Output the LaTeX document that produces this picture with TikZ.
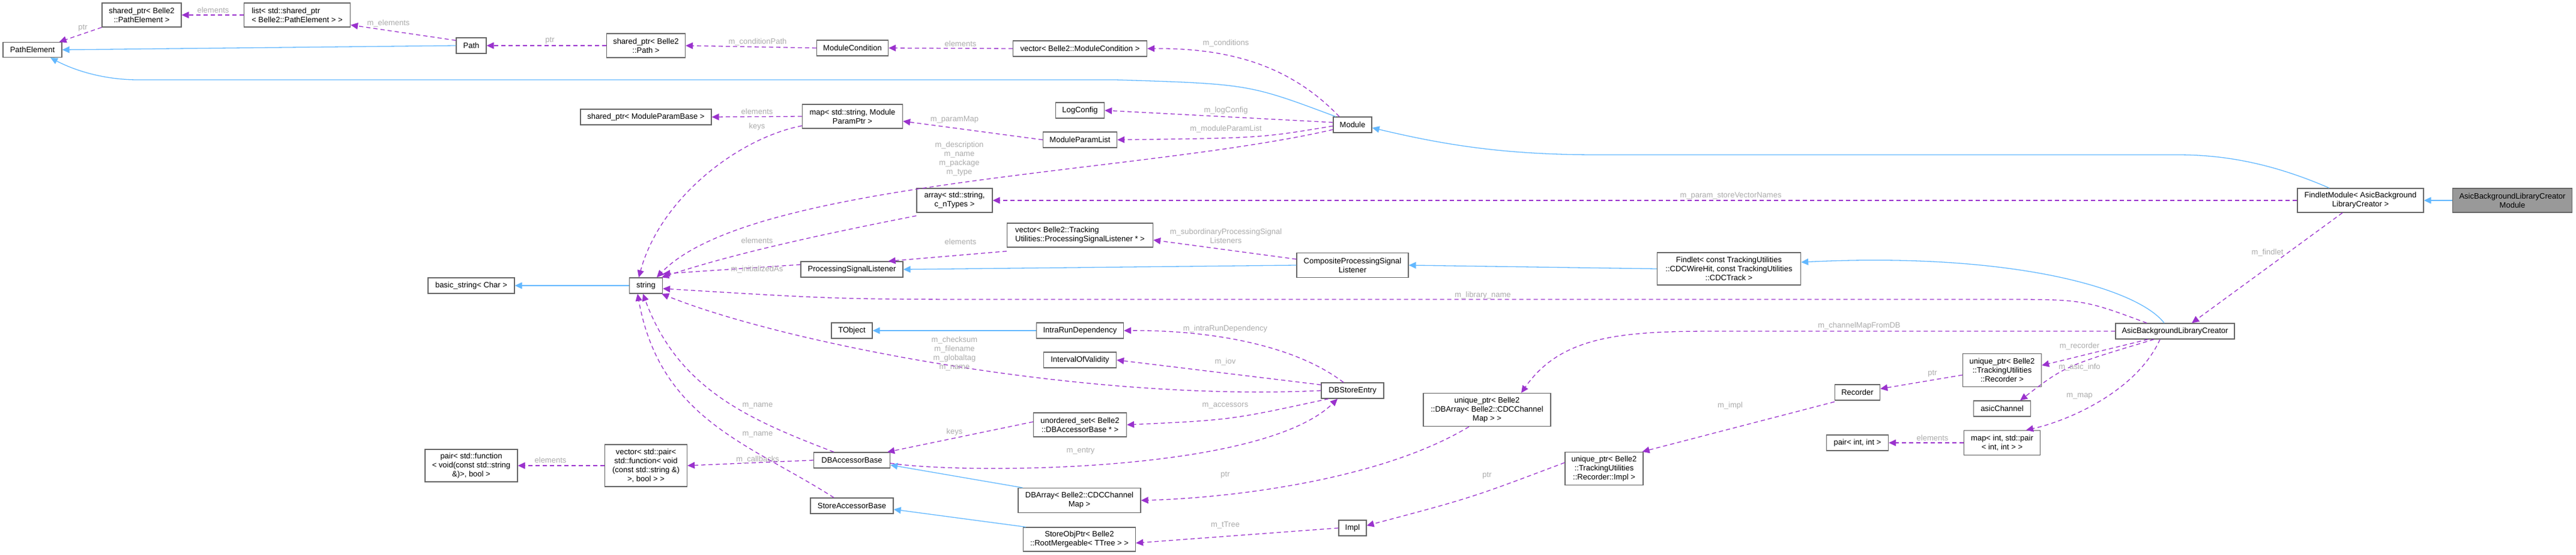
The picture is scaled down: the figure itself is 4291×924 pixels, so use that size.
\documentclass[tikz,border=0pt]{standalone}
\usepackage{fontspec}
\setmainfont{Liberation Sans}
\usetikzlibrary{arrows.meta}
\definecolor{inhc}{HTML}{63B8FF}
\definecolor{depc}{HTML}{9A32CD}
\definecolor{lblc}{HTML}{ABABAB}
\definecolor{boxc}{HTML}{666666}
\begin{document}
\begin{tikzpicture}[x=1pt,y=-1pt,
  every node/.style={font=\fontsize{13}{15}\selectfont},
  box/.style={draw=boxc,line width=1.3pt,fill=white,inner sep=2pt,align=center},
  inh/.style={draw=inhc,line width=1.3pt,-{Triangle[length=12pt,width=11pt,fill=inhc]}},
  dep/.style={draw=depc,line width=1.3pt,dash pattern=on 7pt off 5pt,-{Triangle[length=12pt,width=11pt,fill=depc]}},
  lbl/.style={text=lblc,align=center,inner sep=0pt}]
\useasboundingbox (0,0) rectangle (4291,924);
% nodes
\node[box,minimum width=132,minimum height=40] (shPE) at (236,25) {shared\_ptr< Belle2\\::PathElement >};
\node[box,minimum width=177,minimum height=40,align=left] (list) at (495,25) {list< std::shared\_ptr\\< Belle2::PathElement > >};
\node[box,minimum width=98,minimum height=25] (PE) at (54,83) {PathElement};
\node[box,minimum width=50,minimum height=26] (Path) at (785,76) {Path};
\node[box,minimum width=131,minimum height=40] (shPath) at (1076,76) {shared\_ptr< Belle2\\::Path >};
\node[box,minimum width=119,minimum height=26] (MC) at (1420,80) {ModuleCondition};
\node[box,minimum width=223,minimum height=26] (vMC) at (1799,81) {vector< Belle2::ModuleCondition >};
\node[box,minimum width=81,minimum height=26] (LC) at (1799,184) {LogConfig};
\node[box,minimum width=123,minimum height=26] (MPL) at (1799,233) {ModuleParamList};
\node[box,minimum width=64,minimum height=26] (Mod) at (2253,208) {Module};
\node[box,minimum width=218,minimum height=26] (shMPB) at (1076,195) {shared\_ptr< ModuleParamBase >};
\node[box,minimum width=167,minimum height=40] (map) at (1420,194) {map< std::string, Module\\ParamPtr >};
\node[box,minimum width=126,minimum height=40] (arr) at (1590,334) {array< std::string,\\c\_nTypes >};
\node[box,minimum width=170,minimum height=26] (PSL) at (1419,449) {ProcessingSignalListener};
\node[box,minimum width=243,minimum height=40,align=left] (vPSL) at (1799,392) {vector< Belle2::Tracking\\Utilities::ProcessingSignalListener * >};
\node[box,minimum width=186,minimum height=41] (CPSL) at (2253,442) {CompositeProcessingSignal\\Listener};
\node[box,minimum width=239,minimum height=54] (Fd) at (2880,448) {Findlet< const TrackingUtilities\\::CDCWireHit, const TrackingUtilities\\::CDCTrack >};
\node[box,minimum width=210,minimum height=40] (FM) at (3932,334) {FindletModule< AsicBackground\\LibraryCreator >};
\node[box,minimum width=199,minimum height=40,fill={rgb,255:red,153;green,153;blue,153}] (ABM) at (4185,334) {AsicBackgroundLibraryCreator\\Module};
\node[box,minimum width=198,minimum height=26] (ABC) at (3623,552) {AsicBackgroundLibraryCreator};
\node[box,minimum width=131,minimum height=55] (uRec) at (3335,617) {unique\_ptr< Belle2\\::TrackingUtilities\\::Recorder >};
\node[box,minimum width=95,minimum height=26] (aC) at (3335,681) {asicChannel};
\node[box,minimum width=127,minimum height=41] (mIP) at (3335,738) {map< int, std::pair\\< int, int > >};
\node[box,minimum width=75,minimum height=26] (Rec) at (3094,654) {Recorder};
\node[box,minimum width=103,minimum height=26] (pII) at (3094,738) {pair< int, int >};
\node[box,minimum width=130,minimum height=55] (uImpl) at (2672,781) {unique\_ptr< Belle2\\::TrackingUtilities\\::Recorder::Impl >};
\node[box,minimum width=212,minimum height=55] (uDBA) at (2477,683) {unique\_ptr< Belle2\\::DBArray< Belle2::CDCChannel\\Map > >};
\node[box,minimum width=145,minimum height=26] (IRD) at (1799,551) {IntraRunDependency};
\node[box,minimum width=121,minimum height=26] (IOV) at (1799,600) {IntervalOfValidity};
\node[box,minimum width=104,minimum height=26] (DBSE) at (2253,651) {DBStoreEntry};
\node[box,minimum width=155,minimum height=40] (uset) at (1799,708) {unordered\_set< Belle2\\::DBAccessorBase * >};
\node[box,minimum width=204,minimum height=41] (DBA) at (1798,834) {DBArray< Belle2::CDCChannel\\Map >};
\node[box,minimum width=46,minimum height=26] (Impl) at (2253,880) {Impl};
\node[box,minimum width=187,minimum height=40] (SOP) at (1798,899) {StoreObjPtr< Belle2\\::RootMergeable< TTree > >};
\node[box,minimum width=144,minimum height=26] (bs) at (785,476) {basic\_string< Char >};
\node[box,minimum width=55,minimum height=26] (str) at (1076,476) {string};
\node[box,minimum width=68,minimum height=26] (TO) at (1419,551) {TObject};
\node[box,minimum width=127,minimum height=26] (DBAB) at (1419,767) {DBAccessorBase};
\node[box,minimum width=138,minimum height=26] (SAB) at (1419,843) {StoreAccessorBase};
\node[box,minimum width=137,minimum height=70] (vCB) at (1076,776) {vector< std::pair<\\std::function< void\\(const std::string \&)\\>, bool > >};
\node[box,minimum width=154,minimum height=54] (pF) at (785,776) {pair< std::function\\< void(const std::string\\\&)>, bool >};
% inheritance
\draw[inh] (Path.west) -- (PE.east);
\draw[inh] ([xshift=-28]Mod.north) .. controls (2080,140) .. (1858,133) -- (230,133) .. controls (160,133) and (110,110) .. ([xshift=30]PE.south);
\draw[inh] ([xshift=-52]FM.north) .. controls (3780,270) and (3700,258) .. (3627,258) -- (2660,258) .. controls (2500,258) and (2400,240) .. ([yshift=-5]Mod.east);
\draw[inh] (ABM.west) -- (FM.east);
\draw[inh] ([xshift=-18]ABC.north) .. controls (3560,480) and (3350,420) .. ([yshift=11]Fd.east);
\draw[inh] (Fd.west) -- (CPSL.east);
\draw[inh] (CPSL.west) -- (PSL.east);
\draw[inh] (str.west) -- (bs.east);
\draw[inh] (IRD.west) -- (TO.east);
\draw[inh] ([xshift=8]DBA.north west) -- ([yshift=-8]DBAB.east);
\draw[inh] ([xshift=5]SOP.north west) -- ([yshift=-6]SAB.east);
% dependencies
\draw[dep] (shPE.south west) -- ([xshift=-5]PE.north east) node[lbl,at={(138,47)}]{ptr};
\draw[dep] (list.west) -- (shPE.east) node[lbl,at={(355,17)}]{elements};
\draw[dep] ([yshift=-5]Path.north west) -- ([yshift=4]list.south east) node[lbl,at={(647,39)}]{m\_elements};
\draw[dep] (shPath.west) -- (Path.east) node[lbl,at={(916,68)}]{ptr};
\draw[dep] (MC.west) -- (shPath.east) node[lbl,at={(1262,70)}]{m\_conditionPath};
\draw[dep] (vMC.west) -- (MC.east) node[lbl,at={(1600,73)}]{elements};
\draw[dep] ([xshift=-22]Mod.north) .. controls (2150,110) and (2050,80) .. (vMC.east) node[lbl,at={(2042,72)}]{m\_conditions};
\draw[dep] ([yshift=4]Mod.west) -- (LC.east) node[lbl,at={(2042,184)}]{m\_logConfig};
\draw[dep] ([yshift=-2]Mod.west) .. controls (2100,230) .. (MPL.east) node[lbl,at={(2042,215)}]{m\_moduleParamList};
\draw[dep] ([yshift=-8]Mod.west) .. controls (1900,290) and (1250,300) .. ([xshift=18]str.north) node[lbl,at={(1598,265)}]{m\_description\\m\_name\\m\_package\\m\_type};
\draw[dep] (MPL.west) -- ([yshift=-8]map.east) node[lbl,at={(1590,199)}]{m\_paramMap};
\draw[dep] (map.west) -- (shMPB.east) node[lbl,at={(1261,186)}]{elements};
\draw[dep] ([yshift=5]map.south west) .. controls (1230,230) and (1100,330) .. ([xshift=-12]str.north) node[lbl,at={(1261,211)}]{keys};
\draw[dep] ([yshift=-5]arr.south west) .. controls (1320,400) and (1200,430) .. ([xshift=-2]str.north east) node[lbl,at={(1261,401)}]{elements};
\draw[dep] ([yshift=-6]vPSL.south west) -- ([xshift=-25]PSL.north east) node[lbl,at={(1600,403)}]{elements};
\draw[dep] ([yshift=10]CPSL.west) -- ([yshift=-8]vPSL.east) node[lbl,at={(2042,393)}]{m\_subordinaryProcessingSignal\\Listeners};
\draw[dep] ([yshift=8]PSL.west) -- ([yshift=6]str.north east) node[lbl,at={(1261,449)}]{m\_initializedAs};
\draw[dep] (FM.west) -- (arr.east) node[lbl,at={(2883,326)}]{m\_param\_storeVectorNames};
\draw[dep] ([xshift=-30]FM.south) -- ([xshift=28]ABC.north) node[lbl,at={(3777,421)}]{m\_findlet};
\draw[dep] ([xshift=-47]ABC.north) .. controls (3470,499) .. (3330,499) -- (1700,499) .. controls (1400,499) .. ([yshift=-5]str.east) node[lbl,at={(2470,492)}]{m\_library\_name};
\draw[dep] (ABC.west) -- (2856,552) .. controls (2700,552) and (2600,560) .. ([xshift=57]uDBA.north) node[lbl,at={(3097,543)}]{m\_channelMapFromDB};
\draw[dep] ([xshift=-45]ABC.south) -- ([yshift=8]uRec.east) node[lbl,at={(3464,577)}]{m\_recorder};
\draw[dep] ([xshift=-35]ABC.south) .. controls (3440,610) .. ([xshift=30]aC.north) node[lbl,at={(3464,612)}]{m\_asic\_info};
\draw[dep] ([xshift=-25]ABC.south) .. controls (3560,650) and (3450,700) .. ([xshift=40]mIP.north) node[lbl,at={(3464,660)}]{m\_map};
\draw[dep] (mIP.west) -- (pII.east) node[lbl,at={(3219,730)}]{elements};
\draw[dep] ([yshift=-8]uRec.west) -- ([yshift=6]Rec.east) node[lbl,at={(3219,623)}]{ptr};
\draw[dep] ([yshift=-2]Rec.south west) -- ([xshift=-2]uImpl.north east) node[lbl,at={(2882,676)}]{m\_impl};
\draw[dep] ([yshift=10]uImpl.west) .. controls (2450,830) .. ([yshift=4]Impl.east) node[lbl,at={(2477,793)}]{ptr};
\draw[dep] (Impl.west) -- ([yshift=-6]SOP.east) node[lbl,at={(2041,875)}]{m\_tTree};
\draw[dep] ([xshift=-30]uDBA.south) .. controls (2300,800) and (2050,830) .. (DBA.east) node[lbl,at={(2041,792)}]{ptr};
\draw[dep] ([xshift=-15]DBSE.north) .. controls (2150,570) and (2000,550) .. (IRD.east) node[lbl,at={(2041,548)}]{m\_intraRunDependency};
\draw[dep] ([yshift=-4]DBSE.north west) -- (IOV.east) node[lbl,at={(2041,603)}]{m\_iov};
\draw[dep] (DBSE.west) .. controls (1800,670) and (1300,570) .. ([xshift=-2]str.south east) node[lbl,at={(1590,590)}]{m\_checksum\\m\_filename\\m\_globaltag\\m\_name};
\draw[dep] ([xshift=-40]DBSE.south) .. controls (2050,700) .. (uset.east) node[lbl,at={(2041,676)}]{m\_accessors};
\draw[dep] ([yshift=-5]DBAB.east) .. controls (1600,790) and (2100,790) .. ([xshift=-25]DBSE.south) node[lbl,at={(1800,752)}]{m\_entry};
\draw[dep] ([yshift=5]uset.west) -- ([xshift=-5]DBAB.north east) node[lbl,at={(1590,720)}]{keys};
\draw[dep] ([xshift=-30]DBAB.north) .. controls (1250,700) and (1130,650) .. ([xshift=-5]str.south) node[lbl,at={(1262,676)}]{m\_name};
\draw[dep] (DBAB.west) -- (vCB.east) node[lbl,at={(1262,766)}]{m\_callbacks};
\draw[dep] ([xshift=-30]SAB.north) .. controls (1250,740) and (1100,700) .. ([xshift=-14]str.south) node[lbl,at={(1262,724)}]{m\_name};
\draw[dep] (vCB.west) -- (pF.east) node[lbl,at={(917,767)}]{elements};
\end{tikzpicture}
\end{document}
